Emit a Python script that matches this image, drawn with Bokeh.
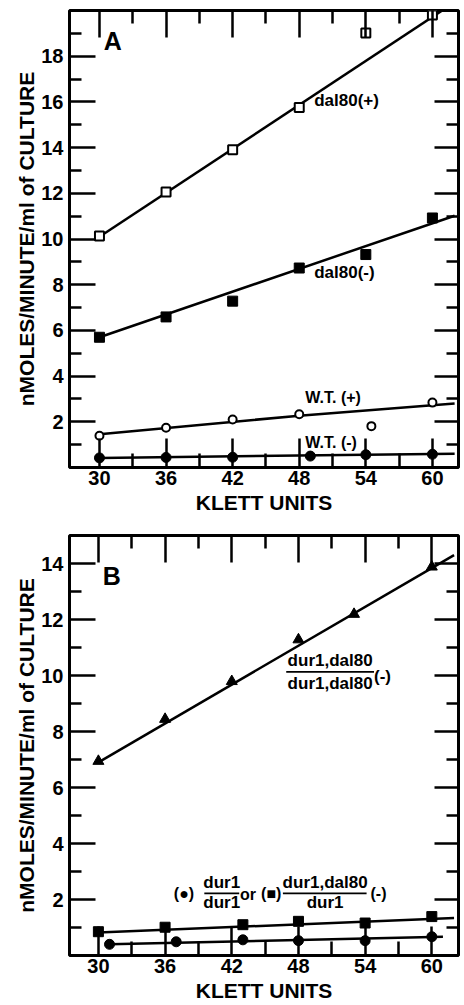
from bokeh.plotting import figure
from bokeh.models import Range1d, FixedTicker, LinearAxis, Label
from bokeh.layouts import column
from bokeh.embed import file_html
from bokeh.resources import INLINE

FONT = "Liberation Sans"

# ---------------- data ----------------
# tick positions / labels
x_major = [30, 36, 42, 48, 54, 60]
x_minor = [33, 39, 45, 51, 57]
y_major_a = [2, 4, 6, 8, 10, 12, 14, 16, 18]
y_minor_a = [1, 3, 5, 7, 9, 11, 13, 15, 17, 19]
y_major_b = [2, 4, 6, 8, 10, 12, 14]
y_minor_b = [1, 3, 5, 7, 9, 11, 13]

# Panel A
a_dal80_plus_x = [30, 36, 42, 48, 54, 60]
a_dal80_plus_y = [10.13, 12.06, 13.91, 15.75, 19.02, 19.80]
a_dal80_minus_x = [30, 36, 42, 48, 54, 60]
a_dal80_minus_y = [5.70, 6.59, 7.28, 8.73, 9.32, 10.92]
a_wt_plus_x = [30, 36, 42, 48, 54.5, 60]
a_wt_plus_y = [1.39, 1.74, 2.10, 2.33, 1.81, 2.84]
a_wt_minus_x = [30, 36, 42, 49, 54, 60]
a_wt_minus_y = [0.42, 0.44, 0.45, 0.50, 0.56, 0.58]

# fitted lines, Panel A
fit_dal80_plus_x = [30, 62]
fit_dal80_plus_y = [10.10, 20.36]
fit_dal80_minus_x = [30, 62]
fit_dal80_minus_y = [5.70, 11.02]
fit_wt_plus_x = [30, 48, 62]
fit_wt_plus_y = [1.45, 2.27, 2.80]
fit_wt_minus_x = [30, 62]
fit_wt_minus_y = [0.42, 0.60]

# Panel B
b_double_x = [30, 36, 42, 48, 53, 60]
b_double_y = [6.94, 8.44, 9.79, 11.28, 12.19, 13.88]
b_sq_x = [30, 36, 43, 48, 54, 60]
b_sq_y = [0.85, 1.01, 1.10, 1.22, 1.16, 1.39]
b_circ_x = [31, 37, 43, 48, 54, 60]
b_circ_y = [0.40, 0.49, 0.56, 0.53, 0.53, 0.67]

fit_double_x = [30, 62]
fit_double_y = [6.90, 14.30]
fit_sq_x = [30, 62]
fit_sq_y = [0.82, 1.34]
fit_circ_x = [31, 61]
fit_circ_y = [0.40, 0.67]

# fraction bars of the annotation texts in panel B (x0, x1, y)
frac_x0 = [46.9, 39.53, 46.6]
frac_x1 = [54.8, 42.67, 54.13]
frac_y = [10.13, 2.22, 2.22]

YLABEL = "nMOLES/MINUTE/ml of CULTURE"
XLABEL = "KLETT UNITS"


def make_panel(height, xr, ymax, ymaj, ymin, borders):
    left, right, top, bottom = borders
    p = figure(width=464, height=height,
               x_range=Range1d(*xr), y_range=Range1d(0, ymax),
               output_backend="svg", toolbar_location=None, tools="",
               min_border_left=left, min_border_right=right,
               min_border_top=top, min_border_bottom=bottom)
    p.grid.visible = False
    p.outline_line_color = "black"
    p.outline_line_width = 3
    p.background_fill_color = "white"
    p.border_fill_color = "white"

    xt = FixedTicker(ticks=x_major, minor_ticks=x_minor)
    yt = FixedTicker(ticks=ymaj, minor_ticks=ymin)

    def tick_style(ax, maj, mnr):
        ax.axis_line_color = None
        ax.major_tick_in = maj
        ax.major_tick_out = 0
        ax.minor_tick_in = mnr
        ax.minor_tick_out = 0
        ax.major_tick_line_width = 2.5
        ax.minor_tick_line_width = 2.5
        ax.major_tick_line_color = "black"
        ax.minor_tick_line_color = "black"

    bx = p.xaxis[0]
    bx.ticker = xt
    tick_style(bx, 29, 14)
    bx.major_label_text_font = FONT
    bx.major_label_text_font_style = "bold"
    bx.major_label_text_font_size = "20px"
    bx.major_label_text_color = "black"
    bx.major_label_standoff = 3
    bx.axis_label = XLABEL
    bx.axis_label_text_font = FONT
    bx.axis_label_text_font_style = "bold"
    bx.axis_label_text_font_size = "21px"
    bx.axis_label_text_color = "black"
    bx.axis_label_standoff = 3

    ly = p.yaxis[0]
    ly.ticker = yt
    tick_style(ly, 26, 12)
    ly.major_label_text_font = FONT
    ly.major_label_text_font_style = "bold"
    ly.major_label_text_font_size = "20px"
    ly.major_label_text_color = "black"
    ly.major_label_standoff = 6
    ly.axis_label = YLABEL
    ly.axis_label_text_font = FONT
    ly.axis_label_text_font_style = "bold"
    ly.axis_label_text_font_size = "21px"
    ly.axis_label_text_color = "black"
    ly.axis_label_standoff = 0

    for loc, tk, maj, mnr in (("above", xt, 27, 13), ("right", yt, 24, 12)):
        ax = LinearAxis(ticker=tk)
        tick_style(ax, maj, mnr)
        ax.major_label_text_font_size = "0px"
        ax.major_label_text_color = None
        ax.major_label_standoff = 0
        p.add_layout(ax, loc)
    return p


def label(p, x, y, text, size, align="left"):
    p.add_layout(Label(x=x, y=y, text=text, text_font=FONT,
                       text_font_size=size, text_font_style="bold",
                       text_color="black", text_align=align,
                       text_baseline="middle"))


# ---------------- Panel A ----------------
pa = make_panel(520, (27.3, 62.35), 20, y_major_a, y_minor_a, (64, 6, 10, 53))
for fx, fy in ((fit_dal80_plus_x, fit_dal80_plus_y),
               (fit_dal80_minus_x, fit_dal80_minus_y),
               (fit_wt_plus_x, fit_wt_plus_y),
               (fit_wt_minus_x, fit_wt_minus_y)):
    pa.line(fx, fy, line_width=2.5, line_color="black")
pa.scatter(a_dal80_plus_x, a_dal80_plus_y, marker="square", size=9,
           fill_color="white", line_color="black", line_width=2)
pa.scatter(a_dal80_minus_x, a_dal80_minus_y, marker="square", size=10,
           fill_color="black", line_color="black")
pa.scatter(a_wt_plus_x, a_wt_plus_y, marker="circle", size=8,
           fill_color="white", line_color="black", line_width=2)
pa.scatter(a_wt_minus_x, a_wt_minus_y, marker="circle", size=10,
           fill_color="black", line_color="black")

label(pa, 31.2, 18.67, "A", "25px", align="center")
label(pa, 49.35, 16.06, "dal80(+)", "17px")
label(pa, 49.35, 8.53, "dal80(-)", "17px")
label(pa, 48.55, 3.06, "W.T. (+)", "16px")
label(pa, 48.55, 1.09, "W.T. (-)", "16px")

# ---------------- Panel B ----------------
pb = make_panel(484, (27.4, 62.4), 15, y_major_b, y_minor_b, (69, 2, 15, 46))
for fx, fy in ((fit_double_x, fit_double_y),
               (fit_sq_x, fit_sq_y),
               (fit_circ_x, fit_circ_y)):
    pb.line(fx, fy, line_width=2.5, line_color="black")
pb.scatter(b_double_x, b_double_y, marker="triangle", size=11,
           fill_color="black", line_color="black")
pb.scatter(b_sq_x, b_sq_y, marker="square", size=10,
           fill_color="black", line_color="black")
pb.scatter(b_circ_x, b_circ_y, marker="circle", size=10,
           fill_color="black", line_color="black")

pb.segment(x0=frac_x0, y0=frac_y, x1=frac_x1, y1=frac_y,
           line_width=1.8, line_color="black")

label(pb, 31.2, 13.56, "B", "25px", align="center")
label(pb, 50.85, 10.52, "dur1,dal80", "17px", align="center")
label(pb, 50.85, 9.71, "dur1,dal80", "17px", align="center")
label(pb, 54.8, 9.95, "(-)", "17px")

label(pb, 37.7, 2.22, "(\u25cf)", "16px", align="center")
label(pb, 41.1, 2.61, "dur1", "17px", align="center")
label(pb, 41.1, 1.90, "dur1", "17px", align="center")
label(pb, 43.45, 2.19, "or", "16px", align="center")
label(pb, 45.55, 2.22, "(\u25a0)", "16px", align="center")
label(pb, 50.4, 2.61, "dur1,dal80", "17px", align="center")
label(pb, 50.4, 1.90, "dur1", "17px", align="center")
label(pb, 55.2, 2.22, "(-)", "16px", align="center")

layout = column(pa, pb)
open("out.html", "w").write(file_html(layout, INLINE))
